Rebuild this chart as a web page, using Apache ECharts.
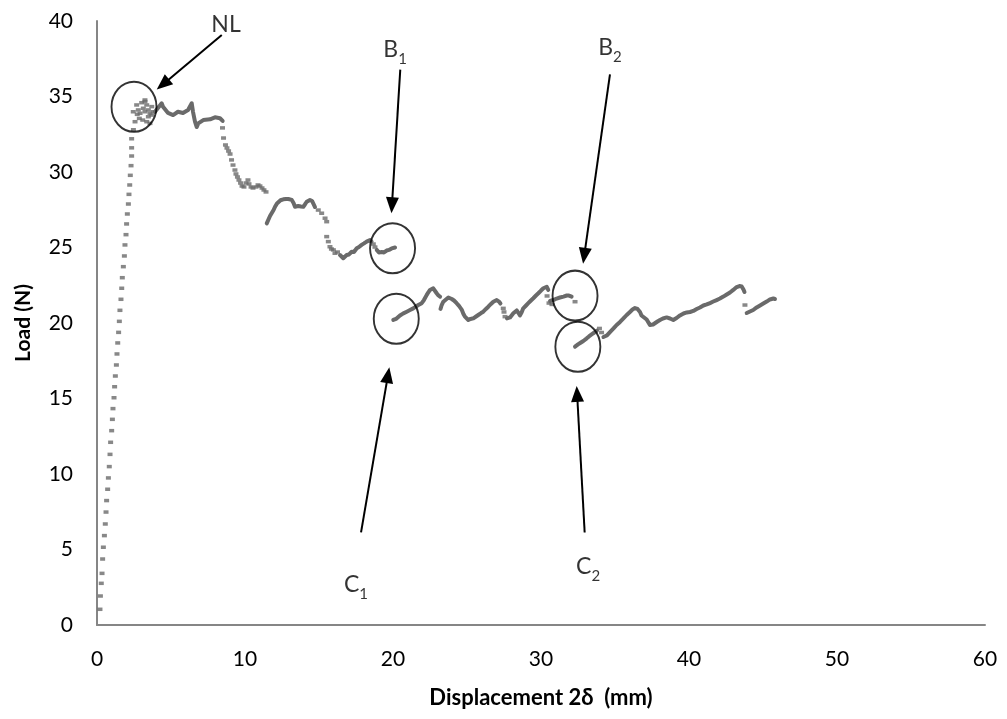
<!DOCTYPE html>
<html><head><meta charset="utf-8">
<script src="https://cdn.jsdelivr.net/npm/echarts@6/dist/echarts.min.js"></script>
<style>html,body{margin:0;padding:0;background:#fff}#c{width:1007px;height:719px}</style>
</head><body><div id="c"></div>
<script>
// ---- axis ticks ----
const xTicks = [0, 10, 20, 30, 40, 50, 60];
const yTicks = [0, 5, 10, 15, 20, 25, 30, 35, 40];

// ---- initial linear rise (sparse dots) ----
const riseX = [0.20,0.23,0.29,0.34,0.38,0.43,0.50,0.56,0.61,0.65,0.72,0.77,0.83,0.88,0.92,0.99,1.04,1.08,1.15,1.19,1.24,1.31,1.35,1.40,1.46,1.51,1.55,1.62,1.67,1.71,1.78,1.85,1.89,1.96,2.00,2.05,2.12,2.16,2.21,2.25,2.30,2.34,2.34,2.34,2.46];
const riseY = [1.04,1.92,2.76,3.42,4.37,5.15,5.92,6.69,7.48,8.24,8.99,9.74,10.49,11.30,12.10,12.87,13.62,14.33,15.05,15.78,16.49,17.22,17.95,18.68,19.38,20.11,20.84,21.57,22.30,23.00,23.73,24.44,25.17,25.85,26.56,27.22,27.88,28.52,29.14,29.78,30.42,31.06,31.60,32.20,32.80];

// ---- scattered points at the peak (NL) ----
const peakX = [2.45,2.57,2.68,2.72,2.79,2.86,2.91,3.02,3.09,3.13,3.24,3.24,3.24,3.36,3.36,3.47,3.47,3.58,3.58,3.70,3.70,3.80];
const peakY = [33.99,33.33,34.44,33.82,34.11,33.55,33.89,34.59,33.44,34.22,34.66,33.99,34.77,34.44,33.33,34.11,33.66,33.89,33.22,34.33,33.77,33.99];

// ---- isolated points during load drops ----
const dropX = [8.48,8.55,8.68,8.78,8.89,8.99,9.09,9.19,9.32,9.39,9.49,9.59,9.70,9.80,9.93,10.07,10.20,10.27,10.41,10.54,10.74,10.88,11.01,11.15,11.28,11.42,
  14.95,15.18,15.41,15.52,15.52,15.63,15.74,15.84,15.97,16.08,16.25,
  18.67,18.78, 27.45,27.50,27.57, 30.41,30.54,30.74,32.30, 33.95,34.09, 43.78];
const dropY = [32.92,32.25,31.79,31.59,31.39,31.19,30.80,30.46,30.13,29.87,29.67,29.47,29.27,29.07,29.01,29.27,29.47,29.21,29.01,28.94,29.01,29.14,29.07,28.94,28.81,28.68,
  27.48,27.27,26.94,26.71,25.72,25.39,25.05,24.90,24.84,24.62,24.70,
  25.23,25.03, 20.97,20.73,20.42, 21.79,21.32,21.23,21.41, 19.64,19.37, 21.19];

// ---- dense (continuous-looking) stretches, null = break ----
const traceX = [
  3.92,4.37,4.46,4.80,5.14,5.47,5.81,6.15,6.40,6.49,6.62,6.74,6.84,7.18,7.64,7.97,8.31,8.49, null,
  11.47,11.55,11.69,11.80,11.93,12.03,12.16,12.25,12.40,12.59,12.77,12.93,13.16,13.28,13.38,13.60,13.78,13.94,14.05,14.17,14.29,14.39,14.53,14.61,14.73, null,
  16.42,16.52,16.64,16.76,16.87,17.03,17.21,17.36,17.55,17.70,17.88,18.04,18.22,18.34,18.45,18.55, null,
  18.90,19.05,19.24,19.39,19.57,19.73,19.91,20.03,20.14, null,
  20.02,20.20,20.47,20.70,20.93,21.15,21.37,21.55,21.71,21.94,22.09,22.28,22.40,22.50,22.72,22.84,22.95,23.07,23.18, null,
  23.21,23.29,23.40,23.51,23.74,23.97,24.12,24.30,24.46,24.64,24.76,24.86,25.09,25.24,25.43,25.61,25.76,25.95,26.10,26.28,26.44,26.62,26.78,27.01,27.16,27.26, null,
  27.70,27.91,28.13,28.36,28.48,28.58,28.70,28.80,28.99,29.14,29.32,29.48,29.66,29.82,30.00,30.16,30.39,30.49, null,
  30.61,30.83,31.06,31.28,31.52,31.74,31.89,32.07, null,
  32.30,32.50,32.70,32.86,33.07,33.24,33.42,33.61,33.78, null,
  34.22,34.44,34.66,34.90,35.11,35.34,35.57,35.79,36.01,36.18,36.35,36.52,36.69,36.79,36.91,37.14,37.26,37.36,37.57,37.70,37.87,38.04,38.24,38.49,38.72,38.94,39.16,39.39,39.63,39.85,40.07,40.29,40.52,40.74,40.97,41.20,41.42,41.64,41.87,42.09,42.32,42.55,42.77,42.99,43.22,43.41,43.56,43.68,43.75, null,
  43.90,44.12,44.34,44.57,44.80,45.02,45.25,45.47,45.70,45.81
];
const traceY = [
  33.99,34.55,34.32,33.91,33.77,33.99,33.91,34.11,34.55,33.97,33.33,32.98,33.22,33.44,33.49,33.62,33.56,33.38, null,
  26.60,26.71,27.09,27.27,27.48,27.70,27.92,28.03,28.13,28.19,28.21,28.21,28.15,27.95,27.70,27.75,27.72,27.70,27.85,28.03,28.11,28.15,28.08,27.95,27.68, null,
  24.50,24.37,24.29,24.37,24.50,24.54,24.72,24.70,24.95,25.03,25.17,25.27,25.39,25.46,25.50,25.40, null,
  24.84,24.67,24.70,24.67,24.80,24.84,24.94,24.97,25.00, null,
  20.20,20.27,20.50,20.64,20.75,20.86,20.97,21.09,21.19,21.31,21.52,21.86,22.05,22.19,22.30,22.19,21.97,21.82,21.74, null,
  20.93,21.19,21.41,21.52,21.69,21.59,21.49,21.31,21.13,20.89,20.60,20.42,20.20,20.27,20.31,20.43,20.53,20.66,20.75,20.93,21.08,21.26,21.41,21.52,21.42,21.29, null,
  20.30,20.37,20.64,20.83,20.66,20.50,20.73,20.97,21.16,21.31,21.49,21.64,21.82,21.97,22.15,22.30,22.40,22.19, null,
  21.46,21.52,21.62,21.69,21.75,21.82,21.82,21.75, null,
  18.43,18.58,18.71,18.81,18.97,19.11,19.24,19.37,19.50, null,
  19.07,19.17,19.40,19.64,19.87,20.07,20.30,20.53,20.73,20.89,20.99,20.93,20.73,20.50,20.37,20.23,20.03,19.87,19.90,19.98,20.10,20.20,20.30,20.37,20.30,20.20,20.33,20.50,20.63,20.70,20.73,20.80,20.93,21.03,21.16,21.23,21.32,21.42,21.52,21.62,21.75,21.89,22.02,22.19,22.38,22.45,22.42,22.22,22.05, null,
  20.66,20.76,20.86,21.03,21.16,21.29,21.42,21.56,21.62,21.59
];

// ---- annotations (data coordinates) ----
const markNames = ['NL', 'B1', 'C1', 'B2', 'C2'];
const circleX = [2.50, 19.97, 20.22, 32.30, 32.49];
const circleY = [34.32, 24.95, 20.28, 21.81, 18.43];
const arrowFromX = [8.43, 20.49, 17.84, 34.66, 32.95];
const arrowFromY = [39.08, 36.78, 6.13, 36.46, 6.13];
const arrowToX = [4.45, 19.93, 19.66, 32.92, 32.44];
const arrowToY = [35.80, 27.80, 16.55, 24.45, 15.30];
const textX = [8.72, 20.14, 17.50, 34.66, 33.18];
const textY = [39.75, 38.08, 2.65, 38.21, 3.84];

const COL = '#6a6a6a';
const FONT = 'Lato, "Open Sans", sans-serif';

const pairs = (xs, ys) => xs.map((x, i) => (x === null || ys[i] === null) ? ['-', '-'] : [x, ys[i]]);
const dotData = pairs(riseX, riseY).concat(pairs(peakX, peakY), pairs(dropX, dropY));
const traceData = pairs(traceX, traceY);
const circleData = circleX.map((x, i) => [x, circleY[i]]);
const arrowData = arrowFromX.map((x, i) => [{coord: [x, arrowFromY[i]]}, {coord: [arrowToX[i], arrowToY[i]]}]);
const textData = textX.map((x, i) => ({value: [x, textY[i]], name: markNames[i]}));

const chart = echarts.init(document.getElementById('c'), null, {renderer: 'canvas'});
chart.setOption({
  animation: false,
  backgroundColor: '#fff',
  grid: {left: 97, right: 22, top: 21, bottom: 94, containLabel: false},
  xAxis: {
    type: 'value', min: xTicks[0], max: xTicks[xTicks.length - 1], interval: 10,
    name: 'Displacement 2δ  (mm)', nameLocation: 'middle', nameGap: 62,
    nameTextStyle: {fontFamily: FONT, fontWeight: 'bold', fontSize: 22, color: '#000'},
    axisLine: {lineStyle: {color: '#868686', width: 2}},
    axisTick: {show: false},
    splitLine: {show: false},
    axisLabel: {fontFamily: FONT, fontSize: 21, color: '#000', margin: 24}
  },
  yAxis: {
    type: 'value', min: yTicks[0], max: yTicks[yTicks.length - 1], interval: 5,
    name: 'Load (N)', nameLocation: 'middle', nameGap: 63, nameRotate: 90,
    nameTextStyle: {fontFamily: FONT, fontWeight: 'bold', fontSize: 21, color: '#000'},
    axisLine: {show: true, lineStyle: {color: '#868686', width: 2}},
    axisTick: {show: false},
    splitLine: {show: false},
    axisLabel: {fontFamily: FONT, fontSize: 21, color: '#000', margin: 24}
  },
  series: [
    {
      type: 'line', data: traceData, symbol: 'none', connectNulls: false,
      lineStyle: {color: COL, width: 4, cap: 'round', join: 'round'}, z: 2
    },
    {
      type: 'scatter', data: dotData, symbol: 'rect', symbolSize: [5, 3.5],
      itemStyle: {color: COL}, z: 2
    },
    {
      type: 'scatter', data: circleData, symbol: 'circle', symbolSize: [45, 50], clip: false,
      itemStyle: {color: 'rgba(0,0,0,0)', borderColor: '#000', borderWidth: 2}, z: 3
    },
    {
      type: 'line', data: [], z: 3,
      markLine: {
        silent: true, symbol: ['none', 'triangle'], symbolSize: [13, 16],
        lineStyle: {color: '#000', width: 2, type: 'solid'},
        label: {show: false}, data: arrowData, animation: false
      }
    },
    {
      type: 'scatter', data: textData, symbolSize: 0, clip: false, z: 4,
      label: {
        show: true, position: 'inside', color: '#000',
        formatter: p => {
          const n = p.name;
          return n.length > 1 && /\d/.test(n[1]) ? '{m|' + n[0] + '}{s|' + n.slice(1) + '}' : '{m|' + n + '}';
        },
        rich: {
          m: {fontFamily: FONT, fontSize: 23, color: '#000'},
          s: {fontFamily: FONT, fontSize: 15, color: '#000', padding: [19, 0, 0, 0]}
        }
      }
    }
  ]
});
</script>
</body></html>
